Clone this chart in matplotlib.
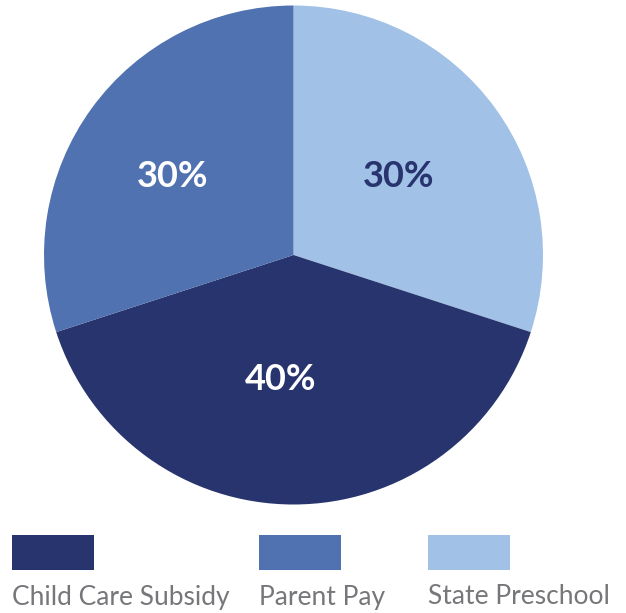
#!/usr/bin/env python3
"""Pie chart of child care funding sources."""

import numpy as np
import matplotlib
matplotlib.use("Agg")
import matplotlib.pyplot as plt
from matplotlib.patches import Rectangle

# slices, drawn clockwise from 12 o'clock
FONTES = ["State Preschool", "Child Care Subsidy", "Parent Pay"]
PERCENTUAIS = [30, 40, 30]

# legend order
LEGENDA = ["Child Care Subsidy", "Parent Pay", "State Preschool"]

CORES = {
    "Child Care Subsidy": "#27346e",
    "Parent Pay": "#5072b0",
    "State Preschool": "#a1c1e6",
}
COR_ROTULO = {
    "Child Care Subsidy": "white",
    "Parent Pay": "white",
    "State Preschool": "#27346e",
}
# radial distance / angle nudge for the percentage labels
DIST_ROTULO = {"State Preschool": 0.525, "Child Care Subsidy": 0.50, "Parent Pay": 0.58}
DESVIO_ANG = {"State Preschool": 1.0, "Child Care Subsidy": -6.0, "Parent Pay": 3.0}

W, H = 626, 613
plt.rcParams["font.family"] = ["Lato", "DejaVu Sans"]

fig = plt.figure(figsize=(W / 100, H / 100), dpi=100)

# pie centred at (293.5, 255) px, radius 249.5 px
cx, cy, r = 293.5, 255.0, 249.5
ax = fig.add_axes([(cx - r) / W, (H - cy - r) / H, 2 * r / W, 2 * r / H])
wedges, _ = ax.pie(
    PERCENTUAIS,
    colors=[CORES[f] for f in FONTES],
    startangle=90,
    counterclock=False,
    radius=1.0,
    wedgeprops=dict(linewidth=0),
)
ax.set_xlim(-1, 1)
ax.set_ylim(-1, 1)
ax.set_aspect("equal")
ax.axis("off")

for w, fonte, pct in zip(wedges, FONTES, PERCENTUAIS):
    ang = np.deg2rad((w.theta1 + w.theta2) / 2 + DESVIO_ANG[fonte])
    d = DIST_ROTULO[fonte]
    ax.text(d * np.cos(ang), d * np.sin(ang), f"{pct}%",
            ha="center", va="center", fontsize=26, fontweight="bold",
            color=COR_ROTULO[fonte])

# legend: swatch above its label
x_legenda = [12, 259, 428]
for x0, fonte in zip(x_legenda, LEGENDA):
    fig.patches.append(Rectangle((x0 / W, (H - 570) / H), 82 / W, 35 / H,
                                 transform=fig.transFigure, color=CORES[fonte],
                                 linewidth=0))
    fig.text(x0 / W, (H - 597) / H, fonte, ha="left", va="center",
             fontsize=19, fontweight="normal", color="#76777a")

fig.savefig("out.png", dpi=100, facecolor="white")
